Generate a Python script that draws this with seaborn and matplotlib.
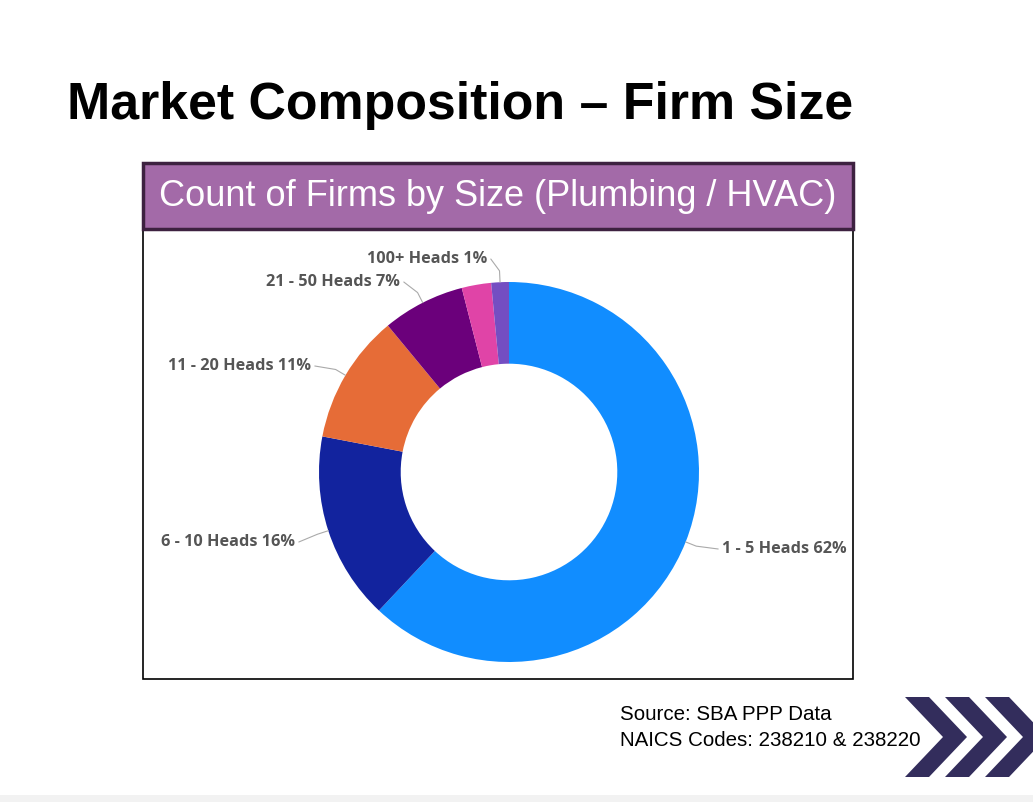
import numpy as np
import matplotlib.pyplot as plt
import seaborn as sns
from matplotlib.patches import Rectangle, Polygon

sns.set_theme(style="white")
plt.rcParams['font.family'] = ['Liberation Sans', 'DejaVu Sans']

sizes = ["1 - 5 Heads", "6 - 10 Heads", "11 - 20 Heads", "21 - 50 Heads", "51 - 100 Heads", "100+ Heads"]
shares = [62, 16, 11, 7, 2.5, 1.5]
pct_labels = ["62%", "16%", "11%", "7%", "", "1%"]
colors = ["#118dff", "#12239e", "#e66c37", "#6b007b", "#e044a7", "#744ec2"]

W, H = 1033, 802
fig = plt.figure(figsize=(W / 100, H / 100), dpi=100)
fig.patch.set_facecolor("white")

def px(x, y):
    return x / W, 1 - y / H

# title
fig.text(*px(67, 105), "Market Composition \u2013 Firm Size", fontsize=37.4, fontweight="bold",
         va="center", ha="left", color="black")

# chart frame (behind the donut axes)
fig.patches.append(Rectangle(px(143, 679), 710 / W, 450 / H, transform=fig.transFigure,
                             facecolor="white", edgecolor="black", lw=1.2, zorder=-1))
fig.patches.append(Rectangle(px(143, 229), 710 / W, 66 / H, transform=fig.transFigure,
                             facecolor="#a36aa8", edgecolor="#3d2140", lw=2.5, zorder=-1))
fig.text(*px(498, 196), "Count of Firms by Size (Plumbing / HVAC)", fontsize=26,
         color="white", ha="center", va="center")

# donut
R = 190
ax = fig.add_axes([319 / W, 1 - 662 / H, 2 * R / W, 2 * R / H])
ax.patch.set_alpha(0)
wedges, _ = ax.pie(shares, colors=colors, startangle=90, counterclock=False,
                   radius=1, wedgeprops=dict(width=0.43, edgecolor="none"))
ax.set_xlim(-1, 1)
ax.set_ylim(-1, 1)
ax.axis("off")

# label text positions (px)
text_pos = {0: (722, 549, "left"), 1: (295, 542, "right"), 2: (311, 366, "right"),
            3: (400, 282, "right"), 5: (487, 259, "right")}
cx, cy = 509, 472
for i, w in enumerate(wedges):
    if i not in text_pos:
        continue
    ang = np.deg2rad((w.theta1 + w.theta2) / 2)
    x0, y0 = np.cos(ang) * 1.0, np.sin(ang) * 1.0
    x1, y1 = np.cos(ang) * 1.06, np.sin(ang) * 1.06
    tx, ty, ha = text_pos[i]
    dx, dy = (tx - cx) / R, -(ty - cy) / R
    gap = 0.02 if ha == "left" else -0.02
    ax.plot([x0, x1, dx - gap], [y0, y1, dy], color="#aaaaaa", lw=0.8, clip_on=False)
    ax.text(dx, dy, f"{sizes[i]} {pct_labels[i]}", ha=ha, va="center", fontsize=11.7,
            fontweight="bold", color="#555555", family=["Open Sans", "DejaVu Sans"])

# source text
fig.text(*px(620, 715), "Source: SBA PPP Data", fontsize=14.8, va="center", color="black")
fig.text(*px(620, 740), "NAICS Codes: 238210 & 238220", fontsize=14.8, va="center", color="black")

# chevrons
for k in range(3):
    x = 905 + k * 40
    pts = [px(x, 697), px(x + 24, 697), px(x + 62, 737), px(x + 24, 777), px(x, 777), px(x + 38, 737)]
    fig.patches.append(Polygon(pts, closed=True, transform=fig.transFigure,
                               facecolor="#332d5c", edgecolor="none"))

# bottom strip
fig.patches.append(Rectangle((0, 0), 1, 7 / H, transform=fig.transFigure,
                             facecolor="#f2f2f2", edgecolor="none"))

fig.savefig("out.png", dpi=100)
